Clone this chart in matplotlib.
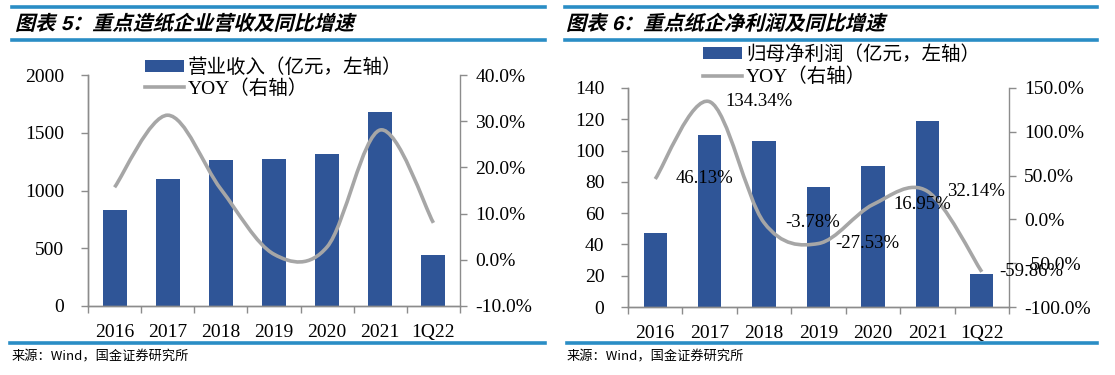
import numpy as np
import matplotlib
matplotlib.use("Agg")
from matplotlib import pyplot as plt
from matplotlib.path import Path
from matplotlib.patches import PathPatch
from matplotlib.textpath import TextPath
from matplotlib.font_manager import FontProperties
from matplotlib.lines import Line2D
from matplotlib.ticker import FuncFormatter, FixedLocator
import matplotlib.transforms as mtransforms

# data
years = ["2016", "2017", "2018", "2019", "2020", "2021", "1Q22"]

revenue = [831, 1097, 1264, 1276, 1313, 1677, 444]          # 亿元
revenue_yoy = [15.7, 31.3, 15.3, 1.2, 2.8, 28.1, 8.0]       # %

profit = [47, 110, 106, 77, 90, 119, 21]                    # 亿元
profit_yoy = [46.13, 134.34, -3.78, -27.53, 16.95, 32.14, -59.86]  # %

BLUE = "#2F5597"
GREY = "#A6A6A6"
SPINE = "#8C8C8C"
RULE = "#2A8DC5"
W, H = 1115, 375

serif = ["Liberation Serif", "Noto Sans CJK SC"]
cjk = ["Noto Sans CJK SC", "DejaVu Sans"]

fig = plt.figure(figsize=(W / 100, H / 100), dpi=100)


def px_axes(x0, y0, x1, y1):
    # pixel box (top-left origin) -> axes
    return fig.add_axes([x0 / W, 1 - y1 / H, (x1 - x0) / W, (y1 - y0) / H])


def smooth_path(xs, ys):
    # excel-like smoothed line: cubic bezier through every point
    pts = list(zip(xs, ys))
    n = len(pts)
    verts = [pts[0]]
    codes = [Path.MOVETO]
    for i in range(n - 1):
        p0 = pts[i - 1] if i > 0 else pts[i]
        p1 = pts[i]
        p2 = pts[i + 1]
        p3 = pts[i + 2] if i + 2 < n else pts[i + 1]
        c1 = (p1[0] + (p2[0] - p0[0]) / 6, p1[1] + (p2[1] - p0[1]) / 6)
        c2 = (p2[0] - (p3[0] - p1[0]) / 6, p2[1] - (p3[1] - p1[1]) / 6)
        verts += [c1, c2, p2]
        codes += [Path.CURVE4] * 3
    return Path(verts, codes)


def style(ax, ax2, ymax, ystep, rlim, rstep):
    n = len(years)
    ax.set_xlim(-0.5, n - 0.5)
    ax.set_ylim(0, ymax)
    ax.set_yticks(np.arange(0, ymax + 1, ystep))
    ax2.set_ylim(*rlim)
    ax2.set_yticks(np.arange(rlim[0], rlim[1] + 1, rstep))
    ax2.yaxis.set_major_formatter(FuncFormatter(lambda v, p: "%.1f%%" % v))
    ax.set_xticks(range(n))
    ax.set_xticklabels(years)
    ax.xaxis.set_minor_locator(FixedLocator(np.arange(-0.5, n, 1)))
    ax.tick_params(axis="x", which="major", length=0, pad=13)
    ax.tick_params(axis="x", which="minor", length=5, color=SPINE, width=1)
    for a in (ax, ax2):
        for s in a.spines.values():
            s.set_color(SPINE)
            s.set_linewidth(1)
        a.spines["top"].set_visible(False)
        for lab in a.get_xticklabels() + a.get_yticklabels():
            lab.set_fontfamily("Liberation Serif")
            lab.set_fontsize(14)
    ax.spines["right"].set_visible(False)
    ax.tick_params(axis="y", length=5, color=SPINE, width=1, pad=12)
    ax2.tick_params(axis="y", length=5, color=SPINE, width=1, pad=6)
    ax.set_zorder(ax2.get_zorder() - 1)
    ax2.patch.set_visible(False)


def title(s, x, y):
    fp = FontProperties(family=["Liberation Sans", "Noto Sans CJK SC"], weight="bold")
    tp = TextPath((0, 0), s, size=14.5, prop=fp)
    tr = mtransforms.Affine2D().skew_deg(14, 0).scale(fig.dpi / 72).translate(x, H - y)
    fig.add_artist(PathPatch(tp, transform=tr, facecolor="black", lw=0))


def rule(x0, x1, y):
    fig.add_artist(Line2D([x0 / W, x1 / W], [1 - y / H, 1 - y / H],
                          transform=fig.transFigure, color=RULE, lw=2.6))


# ---------- chart 5 ----------
ax = px_axes(88, 75, 460, 306)
ax2 = ax.twinx()
x = np.arange(len(years))
b1 = ax.bar(x, revenue, width=0.45, color=BLUE, zorder=2)
ax2.add_patch(PathPatch(smooth_path(x, revenue_yoy), facecolor="none",
                        edgecolor=GREY, lw=2.6, capstyle="butt"))
style(ax, ax2, 2000, 500, (-10, 40), 10)
h1 = Line2D([], [], color=GREY, lw=2.6)
ax.legend([b1, h1], ["营业收入（亿元，左轴）", "YOY（右轴）"],
          loc="upper left", bbox_to_anchor=(145 / W, 1 - 58 / H),
          bbox_transform=fig.transFigure, frameon=False, prop={"family": serif, "size": 14},
          handlelength=2.0, handleheight=0.55, handletextpad=0.2, labelspacing=0.12,
          borderpad=0, borderaxespad=0)

# ---------- chart 6 ----------
bx = px_axes(628, 88, 1009, 307)
bx2 = bx.twinx()
b2 = bx.bar(x, profit, width=0.43, color=BLUE, zorder=2)
bx2.add_patch(PathPatch(smooth_path(x, profit_yoy), facecolor="none",
                        edgecolor=GREY, lw=2.6, capstyle="butt"))
for i, v in enumerate(profit_yoy):
    bx2.text(i + 0.9, v, "%.2f%%" % v, ha="center", va="center",
             fontfamily="Liberation Serif", fontsize=13.5, zorder=5)
style(bx, bx2, 140, 20, (-100, 150), 50)
h2 = Line2D([], [], color=GREY, lw=2.6)
bx.legend([b2, h2], ["归母净利润（亿元，左轴）", "YOY（右轴）"],
          loc="upper left", bbox_to_anchor=(703 / W, 1 - 45 / H),
          bbox_transform=fig.transFigure, frameon=False, prop={"family": serif, "size": 14},
          handlelength=2.0, handleheight=0.55, handletextpad=0.2, labelspacing=0.2,
          borderpad=0, borderaxespad=0)

# ---------- titles, rules, sources ----------
title("图表 5：重点造纸企业营收及同比增速", 15, 30)
title("图表 6：重点纸企净利润及同比增速", 566, 30)
rule(12, 545, 7)
rule(12, 545, 40)
rule(565, 1097, 7)
rule(565, 1097, 40)
rule(10, 545, 343)
rule(567, 1097, 343)
fig.text(12 / W, 1 - 357 / H, "来源：Wind，国金证券研究所", family=cjk, fontsize=9.5, va="center")
fig.text(567 / W, 1 - 357 / H, "来源：Wind，国金证券研究所", family=cjk, fontsize=9.5, va="center")

fig.savefig("out.png", dpi=100)
